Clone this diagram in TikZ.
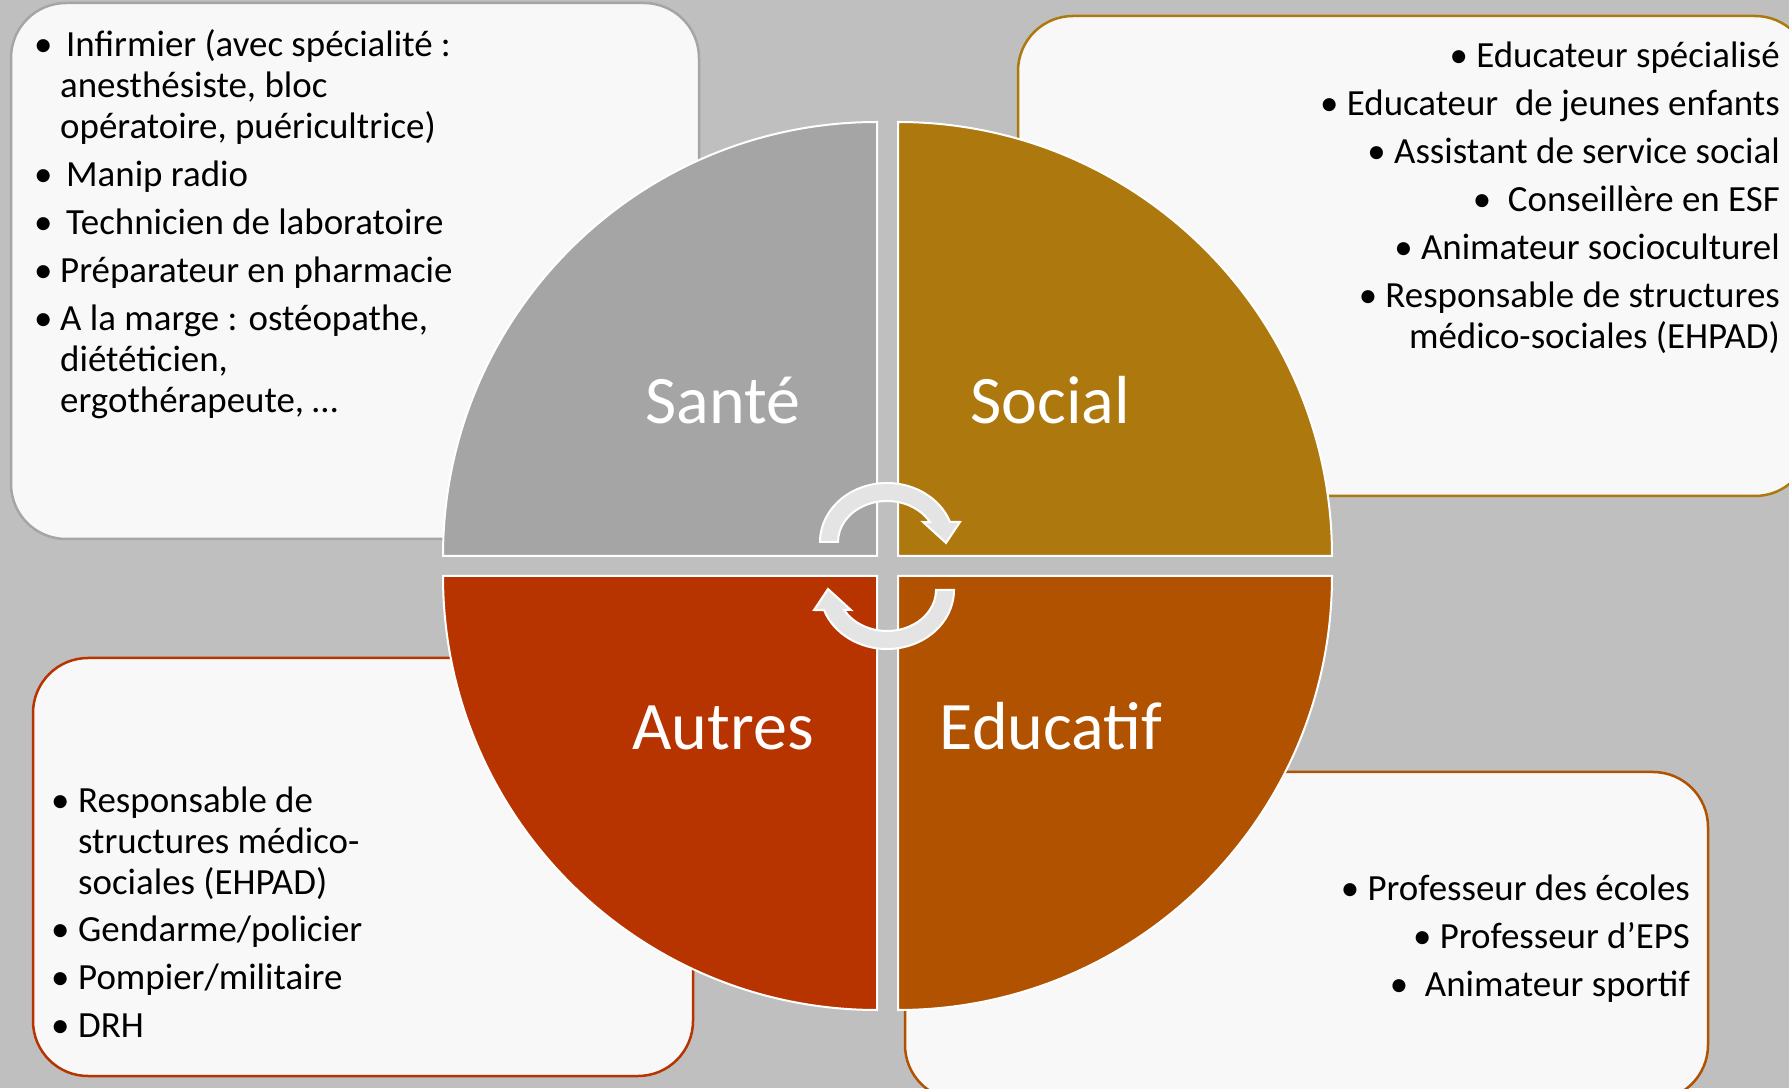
\documentclass[tikz,border=0pt]{standalone}
\usepackage{fontspec}
\setmainfont{Carlito}
\usepackage{tikz}
\definecolor{bggray}{RGB}{191,191,191}
\definecolor{boxfill}{RGB}{248,248,248}
\definecolor{sante}{RGB}{165,165,165}
\definecolor{social}{RGB}{173,120,14}
\definecolor{educatif}{RGB}{176,82,0}
\definecolor{autres}{RGB}{183,52,0}
\definecolor{arrowgray}{RGB}{228,228,228}
\newcommand{\lbullet}[1]{\makebox[#1][l]{\hspace*{-6pt}•}}

\begin{document}
\begin{tikzpicture}[x=1pt, y=1pt,
    listbox/.style={fill=boxfill, rounded corners=55pt, line width=2.5pt},
    quadrant/.style={draw=white, line width=2pt},
    quadlabel/.style={text=white, font=\fontsize{68}{80}\selectfont, anchor=base, inner sep=0pt},
    listtext/.style={font=\fontsize{36.9}{41}\selectfont, inner sep=0pt},
    turnarrow/.style={fill=arrowgray, draw=white, line width=2pt, line join=miter}]
    % Background
    \useasboundingbox (0,0) rectangle (1789,1088);
    \clip (0,0) rectangle (1789,1088);
    \fill[bggray] (0,0) rectangle (1789,1088);

    % Boxes behind the circle
    \draw[listbox, draw=sante] (11,1085) rectangle (699,549);
    \draw[listbox, draw=social] (1018,1072) rectangle (1810,592);
    \draw[listbox, draw=autres] (33,430) rectangle (693,12);
    \draw[listbox, draw=educatif] (905,316) rectangle (1708,-12);

    % Quadrants
    \filldraw[quadrant, fill=sante] (877,532) -- ++(180:434) arc[start angle=180, end angle=90, radius=434] -- cycle;
    \filldraw[quadrant, fill=social] (898,532) -- ++(90:434) arc[start angle=90, end angle=0, radius=434] -- cycle;
    \filldraw[quadrant, fill=educatif] (898,512) -- ++(0:434) arc[start angle=0, end angle=-90, radius=434] -- cycle;
    \filldraw[quadrant, fill=autres] (877,512) -- ++(-90:434) arc[start angle=-90, end angle=-180, radius=434] -- cycle;

    \node[quadlabel] (santelbl) at (723,664) {Santé};
    \node[quadlabel] (sociallbl) at (1050,664) {Social};
    \node[quadlabel] (autreslbl) at (723,338) {Autres};
    \node[quadlabel] (educatiflbl) at (1051,338) {Educatif};

    % Turning arrows in the middle
    \foreach \rot in {0,180} {
        \begin{scope}[rotate around={\rot:(887,522)}, shift={(887,546)}]
            \filldraw[turnarrow] (180:67 and 59) arc[start angle=180, end angle=20, x radius=67, y radius=59]
                -- (73,20) -- (59,-1) -- (36,20) -- (29:49 and 41)
                arc[start angle=29, end angle=180, x radius=49, y radius=41] -- cycle;
        \end{scope}
    }

    % Lists
    \node[listtext, anchor=north west, align=left] (santelist) at (40,1064) {%
        \rule{0pt}{32pt}\lbullet{20pt}\hspace{6pt}Infirmier (avec spécialité :\\
        \hspace*{20pt}anesthésiste, bloc\\
        \hspace*{20pt}opératoire, puéricultrice)\\[7pt]
        \lbullet{20pt}\hspace{6pt}Manip radio\\[7pt]
        \lbullet{20pt}\hspace{6pt}Technicien de laboratoire\\[7pt]
        \lbullet{20pt}Préparateur en pharmacie\\[7pt]
        \lbullet{20pt}A la marge : ostéopathe,\\
        \hspace*{20pt}diététicien,\\
        \hspace*{20pt}ergothérapeute, …};

    \node[listtext, anchor=north east, align=right] (sociallist) at (1780,1053) {%
        \rule{0pt}{32pt}• Educateur spécialisé\\[7pt]
        • Educateur\ \ de jeunes enfants\\[7pt]
        • Assistant de service social\\[7pt]
        •\ \ Conseillère en ESF\\[7pt]
        • Animateur socioculturel\\[7pt]
        • Responsable de structures\\
        médico-sociales (EHPAD)};

    \node[listtext, anchor=north west, align=left] (autreslist) at (57,308) {%
        \rule{0pt}{32pt}\lbullet{21pt}Responsable de\\
        \hspace*{21pt}structures médico-\\
        \hspace*{21pt}sociales (EHPAD)\\[6pt]
        \lbullet{21pt}Gendarme/policier\\[7pt]
        \lbullet{21pt}Pompier/militaire\\[7pt]
        \lbullet{21pt}DRH};

    \node[listtext, anchor=north east, align=right] (educatiflist) at (1690,220) {%
        \rule{0pt}{32pt}• Professeur des écoles\\[7pt]
        • Professeur d’EPS\\[7pt]
        •\ \ Animateur sportif};
\end{tikzpicture}
\end{document}
